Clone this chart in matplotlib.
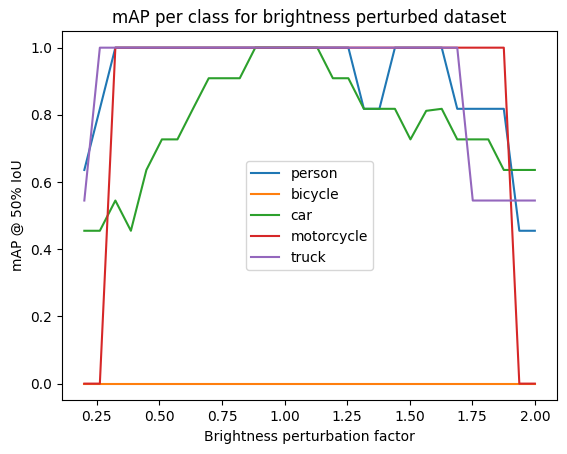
import numpy as np
import matplotlib
matplotlib.use("Agg")
import matplotlib.pyplot as plt

# brightness factors (30 steps from 0.2 to 2.0)
factors = [0.2, 0.262, 0.324, 0.386, 0.448, 0.510, 0.572, 0.634, 0.697, 0.759,
           0.821, 0.883, 0.945, 1.007, 1.069, 1.131, 1.193, 1.255, 1.317, 1.379,
           1.441, 1.503, 1.566, 1.628, 1.690, 1.752, 1.814, 1.876, 1.938, 2.0]

person = [0.636, 0.818, 1.0, 1.0, 1.0, 1.0, 1.0, 1.0, 1.0, 1.0,
          1.0, 1.0, 1.0, 1.0, 1.0, 1.0, 1.0, 1.0, 0.818, 0.818,
          1.0, 1.0, 1.0, 1.0, 0.818, 0.818, 0.818, 0.818, 0.455, 0.455]
bicycle = [0.0] * 30
car = [0.455, 0.455, 0.545, 0.455, 0.636, 0.727, 0.727, 0.818, 0.909, 0.909,
       0.909, 1.0, 1.0, 1.0, 1.0, 1.0, 0.909, 0.909, 0.818, 0.818,
       0.818, 0.727, 0.812, 0.818, 0.727, 0.727, 0.727, 0.636, 0.636, 0.636]
motorcycle = [0.0, 0.0, 1.0, 1.0, 1.0, 1.0, 1.0, 1.0, 1.0, 1.0,
              1.0, 1.0, 1.0, 1.0, 1.0, 1.0, 1.0, 1.0, 1.0, 1.0,
              1.0, 1.0, 1.0, 1.0, 1.0, 1.0, 1.0, 1.0, 0.0, 0.0]
truck = [0.545, 1.0, 1.0, 1.0, 1.0, 1.0, 1.0, 1.0, 1.0, 1.0,
         1.0, 1.0, 1.0, 1.0, 1.0, 1.0, 1.0, 1.0, 1.0, 1.0,
         1.0, 1.0, 1.0, 1.0, 1.0, 0.545, 0.545, 0.545, 0.545, 0.545]

series = {"person": person, "bicycle": bicycle, "car": car,
          "motorcycle": motorcycle, "truck": truck}

fig = plt.figure(figsize=(5.67, 4.54), dpi=100)
ax = fig.add_axes([0.109, 0.118, 0.874, 0.814])

for name, vals in series.items():
    ax.plot(factors, vals, label=name)

ax.set_title("mAP per class for brightness perturbed dataset")
ax.set_xlabel("Brightness perturbation factor")
ax.set_ylabel("mAP @ 50% IoU")
ax.legend(loc="center")

fig.savefig("out.png", dpi=100)
